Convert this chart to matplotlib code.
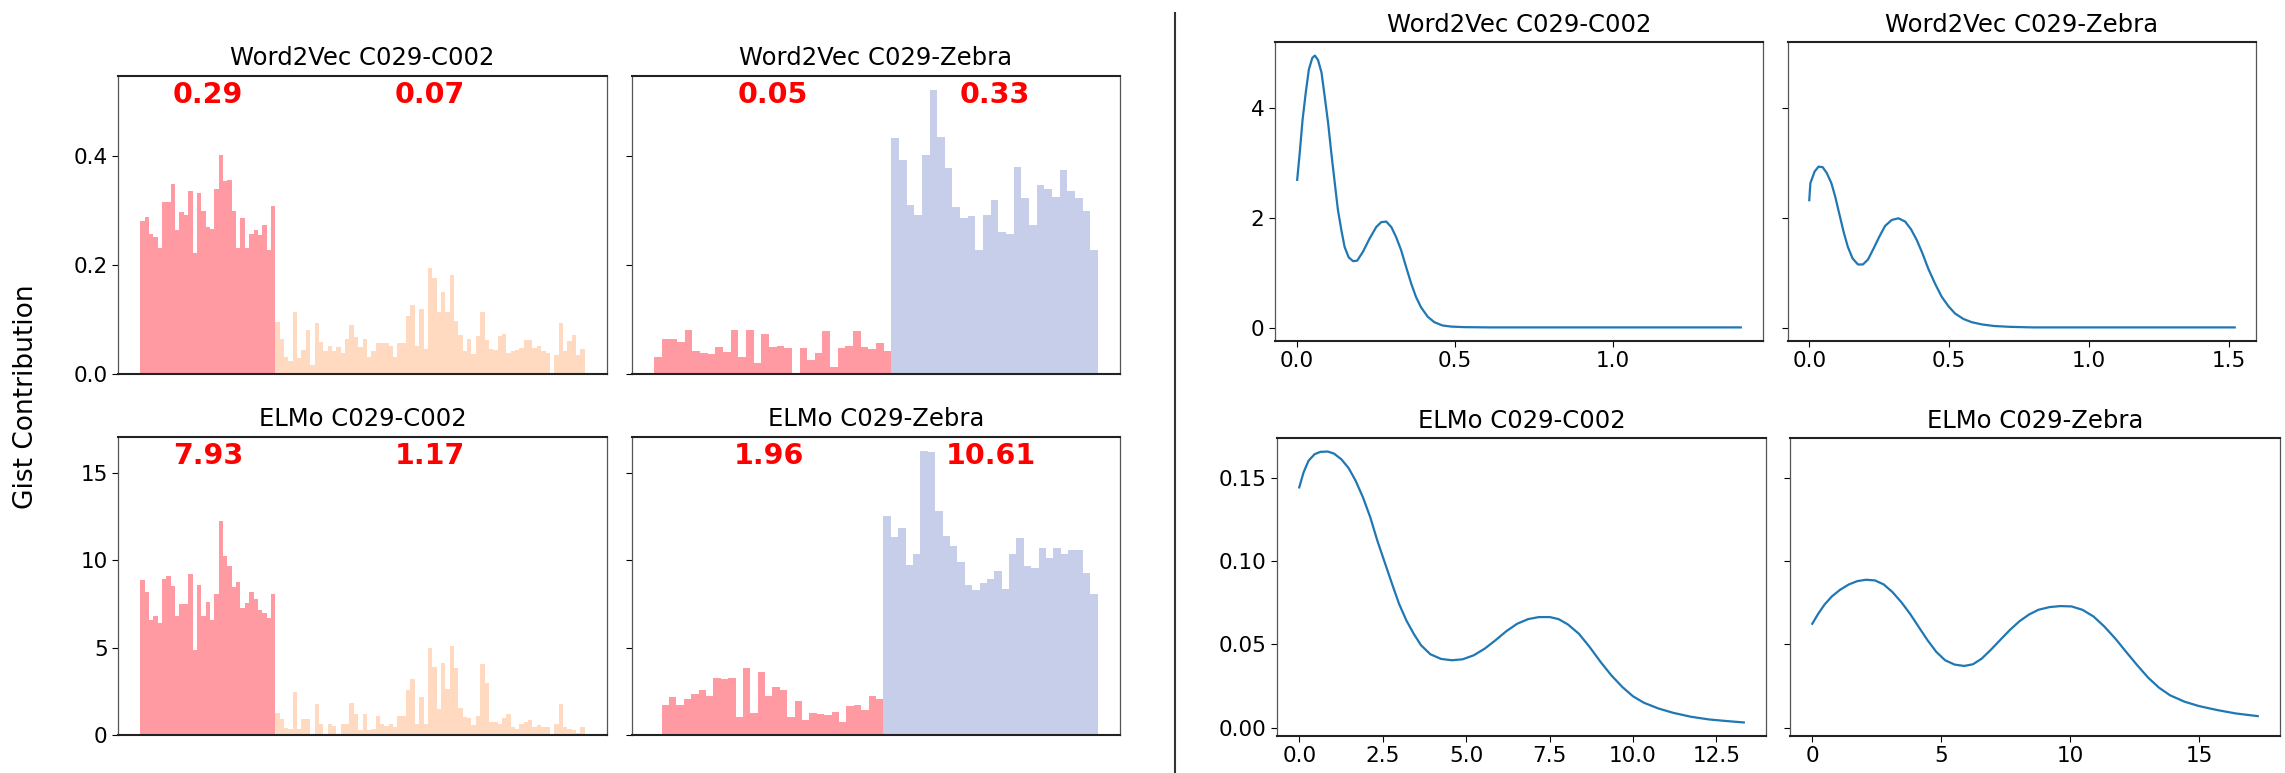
import numpy as np
import matplotlib.pyplot as plt
from matplotlib.lines import Line2D

# Gist contribution per sentence (left block of panels)
w2v_c002_c029 = [0.281, 0.287, 0.257, 0.251, 0.231, 0.315, 0.315, 0.349, 0.264, 0.297,
                 0.291, 0.335, 0.221, 0.331, 0.298, 0.270, 0.266, 0.339, 0.401, 0.354,
                 0.355, 0.298, 0.231, 0.286, 0.231, 0.256, 0.264, 0.254, 0.273, 0.228,
                 0.308]
w2v_c002_other = [0.095, 0.064, 0.032, 0.023, 0.113, 0.029, 0.044, 0.081, 0.017, 0.094,
                  0.058, 0.043, 0.052, 0.043, 0.049, 0.039, 0.064, 0.090, 0.067, 0.050,
                  0.064, 0.032, 0.042, 0.057, 0.057, 0.057, 0.051, 0.031, 0.056, 0.057,
                  0.107, 0.127, 0.052, 0.120, 0.046, 0.194, 0.176, 0.113, 0.151, 0.113,
                  0.182, 0.097, 0.072, 0.042, 0.064, 0.037, 0.070, 0.113, 0.063, 0.046,
                  0.044, 0.069, 0.073, 0.038, 0.042, 0.044, 0.048, 0.063, 0.063, 0.048,
                  0.051, 0.042, 0.039, 0.000, 0.035, 0.094, 0.042, 0.061, 0.072, 0.035,
                  0.045]
w2v_zebra_c029 = [0.032, 0.064, 0.064, 0.058, 0.081, 0.042, 0.039, 0.037, 0.049, 0.041,
                  0.081, 0.032, 0.081, 0.020, 0.073, 0.049, 0.052, 0.048, 0.000, 0.047,
                  0.026, 0.038, 0.078, 0.013, 0.047, 0.052, 0.078, 0.049, 0.046, 0.057,
                  0.042]
w2v_zebra_other = [0.433, 0.393, 0.309, 0.292, 0.402, 0.520, 0.435, 0.377, 0.306, 0.286,
                   0.289, 0.228, 0.292, 0.319, 0.260, 0.257, 0.380, 0.322, 0.273, 0.347,
                   0.339, 0.325, 0.374, 0.335, 0.322, 0.298, 0.228]
elmo_c002_c029 = [8.88, 8.21, 6.58, 6.83, 6.39, 8.92, 9.11, 8.53, 6.83, 7.48,
                  7.48, 9.20, 4.86, 8.59, 6.81, 7.63, 6.58, 8.07, 12.27, 10.26,
                  9.70, 8.50, 8.74, 7.29, 7.58, 8.17, 7.79, 7.16, 7.00, 6.68,
                  8.07]
elmo_c002_other = [1.26, 0.94, 0.42, 0.36, 2.47, 0.36, 0.92, 0.92, 0.08, 1.76,
                   0.61, 0.08, 0.61, 0.50, 0.08, 0.61, 0.65, 1.86, 1.19, 0.31,
                   1.22, 0.27, 0.36, 1.07, 0.65, 0.50, 0.65, 0.46, 1.07, 1.07,
                   2.60, 3.18, 0.65, 2.18, 0.65, 5.01, 3.90, 1.51, 4.13, 2.66,
                   5.11, 3.85, 1.55, 1.03, 0.98, 0.59, 1.07, 4.09, 2.99, 0.75,
                   0.75, 0.65, 0.98, 1.19, 0.46, 0.36, 0.65, 0.75, 0.84, 0.46,
                   0.59, 0.46, 0.46, 0.08, 0.65, 1.76, 0.46, 0.36, 0.27, 0.11,
                   0.46]
elmo_zebra_c029 = [0.00, 1.74, 2.20, 1.74, 2.07, 2.35, 2.58, 2.26, 3.27, 3.18,
                   3.27, 1.05, 3.85, 1.24, 3.60, 2.26, 2.74, 2.58, 1.05, 1.93,
                   0.86, 1.24, 1.21, 1.15, 1.34, 0.73, 1.65, 1.72, 1.44, 2.22,
                   2.07]
elmo_zebra_other = [12.53, 11.35, 11.88, 9.76, 10.39, 16.26, 16.23, 12.84, 11.39, 10.81,
                    9.91, 8.57, 8.29, 8.73, 8.96, 9.40, 8.38, 10.39, 11.31, 9.68,
                    9.59, 10.72, 10.14, 10.72, 10.39, 10.58, 10.58, 9.30, 8.06]

mean_labels = {
    'w2v_c002': ('0.29', '0.07'),
    'w2v_zebra': ('0.05', '0.33'),
    'elmo_c002': ('7.93', '1.17'),
    'elmo_zebra': ('1.96', '10.61'),
}

# density curves (right block)
kde_w2v_c002_x = [0.000, 0.009, 0.017, 0.027, 0.037, 0.048, 0.056, 0.066, 0.077, 0.087,
                  0.098, 0.108, 0.119, 0.129, 0.140, 0.150, 0.163, 0.177, 0.190, 0.208,
                  0.229, 0.250, 0.266, 0.282, 0.298, 0.313, 0.329, 0.345, 0.361, 0.376,
                  0.392, 0.413, 0.434, 0.460, 0.487, 0.528, 0.613, 0.800, 1.000, 1.200,
                  1.404]
kde_w2v_c002_y = [2.70, 3.25, 3.79, 4.28, 4.71, 4.92, 4.96, 4.88, 4.65, 4.22,
                  3.73, 3.19, 2.64, 2.15, 1.78, 1.48, 1.29, 1.22, 1.23, 1.39,
                  1.63, 1.84, 1.93, 1.94, 1.84, 1.66, 1.42, 1.11, 0.81, 0.57,
                  0.38, 0.21, 0.11, 0.05, 0.03, 0.02, 0.015, 0.015, 0.015, 0.015,
                  0.015]
kde_w2v_zebra_x = [0.000, 0.004, 0.019, 0.033, 0.048, 0.063, 0.079, 0.093, 0.107, 0.123,
                   0.138, 0.155, 0.174, 0.192, 0.210, 0.230, 0.250, 0.271, 0.295, 0.319,
                   0.343, 0.364, 0.385, 0.405, 0.426, 0.450, 0.474, 0.498, 0.521, 0.551,
                   0.581, 0.617, 0.662, 0.720, 0.800, 1.000, 1.200, 1.400, 1.522]
kde_w2v_zebra_y = [2.33, 2.64, 2.85, 2.94, 2.93, 2.82, 2.64, 2.39, 2.09, 1.75,
                   1.48, 1.27, 1.16, 1.16, 1.25, 1.45, 1.66, 1.86, 1.97, 2.00,
                   1.94, 1.80, 1.60, 1.36, 1.08, 0.81, 0.57, 0.40, 0.27, 0.17,
                   0.11, 0.07, 0.04, 0.025, 0.015, 0.015, 0.015, 0.015, 0.015]
kde_elmo_c002_x = [0.00, 0.13, 0.28, 0.46, 0.63, 0.85, 1.04, 1.26, 1.48, 1.69,
                   1.91, 2.13, 2.34, 2.56, 2.78, 2.99, 3.21, 3.43, 3.65, 3.93,
                   4.25, 4.58, 4.90, 5.23, 5.56, 5.88, 6.21, 6.53, 6.86, 7.18,
                   7.51, 7.77, 8.05, 8.38, 8.70, 9.03, 9.35, 9.68, 10.00, 10.33,
                   10.76, 11.20, 11.74, 12.28, 12.83, 13.32]
kde_elmo_c002_y = [0.1442, 0.1532, 0.1602, 0.1641, 0.1655, 0.1657, 0.1645, 0.1611, 0.1558, 0.1482,
                   0.1382, 0.1262, 0.1123, 0.0993, 0.0864, 0.0744, 0.0644, 0.0564, 0.0495, 0.0441,
                   0.0413, 0.0405, 0.0411, 0.0435, 0.0475, 0.0525, 0.0580, 0.0624, 0.0652, 0.0664,
                   0.0664, 0.0652, 0.0620, 0.0564, 0.0485, 0.0395, 0.0315, 0.0245, 0.0189, 0.0150,
                   0.0116, 0.0090, 0.0066, 0.0050, 0.0040, 0.0032]
kde_elmo_zebra_x = [0.00, 0.23, 0.48, 0.76, 1.08, 1.42, 1.75, 2.09, 2.43, 2.77,
                    3.11, 3.45, 3.79, 4.13, 4.47, 4.81, 5.15, 5.52, 5.89, 6.23,
                    6.57, 6.93, 7.30, 7.67, 8.04, 8.41, 8.77, 9.20, 9.62, 10.05,
                    10.47, 10.90, 11.32, 11.75, 12.17, 12.60, 13.02, 13.44, 13.87, 14.44,
                    15.00, 15.71, 16.42, 17.27]
kde_elmo_zebra_y = [0.0624, 0.0684, 0.0740, 0.0788, 0.0828, 0.0860, 0.0880, 0.0888, 0.0884, 0.0860,
                    0.0814, 0.0754, 0.0684, 0.0604, 0.0525, 0.0455, 0.0405, 0.0379, 0.0371, 0.0381,
                    0.0415, 0.0469, 0.0529, 0.0588, 0.0640, 0.0680, 0.0708, 0.0724, 0.0730, 0.0728,
                    0.0708, 0.0668, 0.0608, 0.0535, 0.0455, 0.0375, 0.0301, 0.0241, 0.0195, 0.0156,
                    0.0130, 0.0106, 0.0086, 0.0070]

RED = '#FF9AA2'
PEACH = '#FFDAC1'
BLUE = '#C7CEEA'
LINE = '#1f77b4'

W, H = 2285, 773
fig = plt.figure(figsize=(W / 100, H / 100), dpi=100)


def box(l, t, r, b):
    return [l / W, 1 - b / H, (r - l) / W, (b - t) / H]


def style(ax):
    for s in ('top', 'bottom'):
        ax.spines[s].set_linewidth(1.5)
        ax.spines[s].set_color('#222222')
    for s in ('left', 'right'):
        ax.spines[s].set_linewidth(0.9)
        ax.spines[s].set_color('#555555')
    ax.tick_params(labelsize=15.5, length=4)


def bar_panel(ax, first, second, color2, labels, title):
    x1 = np.arange(len(first))
    x2 = np.arange(len(first), len(first) + len(second))
    ax.bar(x1, first, width=1.0, color=RED, linewidth=0)
    ax.bar(x2, second, width=1.0, color=color2, linewidth=0)
    tr = ax.get_xaxis_transform()
    for xs, lab in ((x1, labels[0]), (x2, labels[1])):
        ax.text(xs.mean(), 0.935, lab, transform=tr, color='red', fontsize=20.5,
                fontweight='bold', ha='center', va='center')
    ax.set_title(title, fontsize=17.5, pad=8)
    ax.set_xticks([])
    style(ax)


ax1 = fig.add_axes(box(118, 76, 607, 374))
ax2 = fig.add_axes(box(632, 76, 1120, 374), sharey=ax1)
ax3 = fig.add_axes(box(118, 437, 607, 735))
ax4 = fig.add_axes(box(632, 437, 1120, 735), sharey=ax3)

bar_panel(ax1, w2v_c002_c029, w2v_c002_other, PEACH, mean_labels['w2v_c002'], 'Word2Vec C029-C002')
bar_panel(ax2, w2v_zebra_c029, w2v_zebra_other, BLUE, mean_labels['w2v_zebra'], 'Word2Vec C029-Zebra')
bar_panel(ax3, elmo_c002_c029, elmo_c002_other, PEACH, mean_labels['elmo_c002'], 'ELMo C029-C002')
bar_panel(ax4, elmo_zebra_c029, elmo_zebra_other, BLUE, mean_labels['elmo_zebra'], 'ELMo C029-Zebra')
ax1.set_yticks([0.0, 0.2, 0.4])
ax3.set_yticks([0, 5, 10, 15])
ax2.tick_params(labelleft=False)
ax4.tick_params(labelleft=False)

fig.text(26 / W, 1 - 397 / H, 'Gist Contribution', rotation=90, fontsize=19,
         ha='center', va='center')

k1 = fig.add_axes(box(1275, 42, 1763, 341))
k2 = fig.add_axes(box(1788, 42, 2256, 341), sharey=k1)
k3 = fig.add_axes(box(1277, 438, 1766, 736))
k4 = fig.add_axes(box(1790, 438, 2280, 736), sharey=k3)

k1.plot(kde_w2v_c002_x, kde_w2v_c002_y, color=LINE, lw=1.6)
k2.plot(kde_w2v_zebra_x, kde_w2v_zebra_y, color=LINE, lw=1.6)
k3.plot(kde_elmo_c002_x, kde_elmo_c002_y, color=LINE, lw=1.6)
k4.plot(kde_elmo_zebra_x, kde_elmo_zebra_y, color=LINE, lw=1.6)

k1.set_title('Word2Vec C029-C002', fontsize=17.5, pad=7)
k2.set_title('Word2Vec C029-Zebra', fontsize=17.5, pad=7)
k3.set_title('ELMo C029-C002', fontsize=17.5, pad=7)
k4.set_title('ELMo C029-Zebra', fontsize=17.5, pad=7)

k1.set_xticks([0.0, 0.5, 1.0])
k2.set_xticks([0.0, 0.5, 1.0, 1.5])
k3.set_xticks([0.0, 2.5, 5.0, 7.5, 10.0, 12.5])
k4.set_xticks([0, 5, 10, 15])
k1.set_yticks([0, 2, 4])
k3.set_yticks([0.00, 0.05, 0.10, 0.15])
k2.tick_params(labelleft=False)
k4.tick_params(labelleft=False)
for k in (k1, k2, k3, k4):
    style(k)

fig.add_artist(Line2D([1175 / W, 1175 / W], [1 - 13 / H, 0], transform=fig.transFigure,
                      color='#333333', lw=1.5))

fig.savefig('out.png', dpi=100)
